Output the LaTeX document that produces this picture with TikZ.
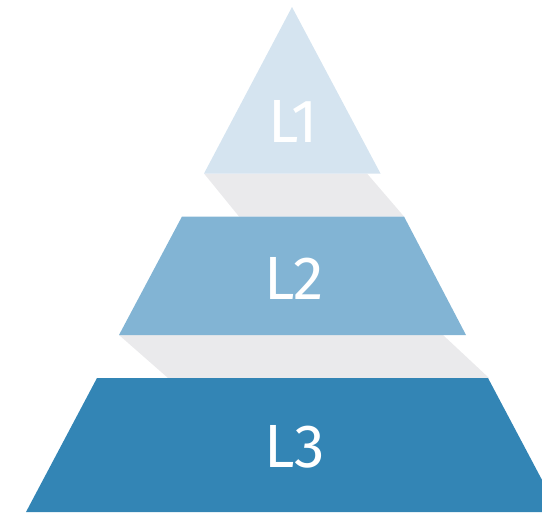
\documentclass[tikz,border=0pt]{standalone}
\usepackage{fontspec}
\setmainfont{Fira Sans}
\definecolor{lone}{RGB}{213,228,240}
\definecolor{ltwo}{RGB}{130,180,212}
\definecolor{lthree}{RGB}{51,133,181}
\definecolor{bandgrey}{RGB}{234,234,236}
\tikzset{
  lbl/.style={text=white, font=\fontsize{61}{61}\selectfont, inner sep=0pt, anchor=center},
  band/.style={fill=bandgrey},
}
\begin{document}
\begin{tikzpicture}[x=1pt,y=-1pt]
\useasboundingbox (0,0) rectangle (542,514);
\begin{scope}
\clip (0,0) rectangle (542,514);
% shadow bands
\fill[band] (204,173.5) -- (367,173.5) -- (404,216.5) -- (239,216.5) -- cycle;
\fill[band] (119,335) -- (443,335) -- (489,378) -- (168,378) -- cycle;
% layers
\fill[lone] (292,7) -- (380.5,173.5) -- (204,173.5) -- cycle;
\fill[ltwo] (182,216.5) -- (404,216.5) -- (466,335) -- (119,335) -- cycle;
\fill[lthree] (97,378) -- (488,378) -- (559,512) -- (26,512) -- cycle;
\end{scope}
\node[lbl] (l1) at (293.5,121) {L1};
\node[lbl] (l2) at (294,278) {L2};
\node[lbl] (l3) at (295,447) {L3};
\end{tikzpicture}
\end{document}
